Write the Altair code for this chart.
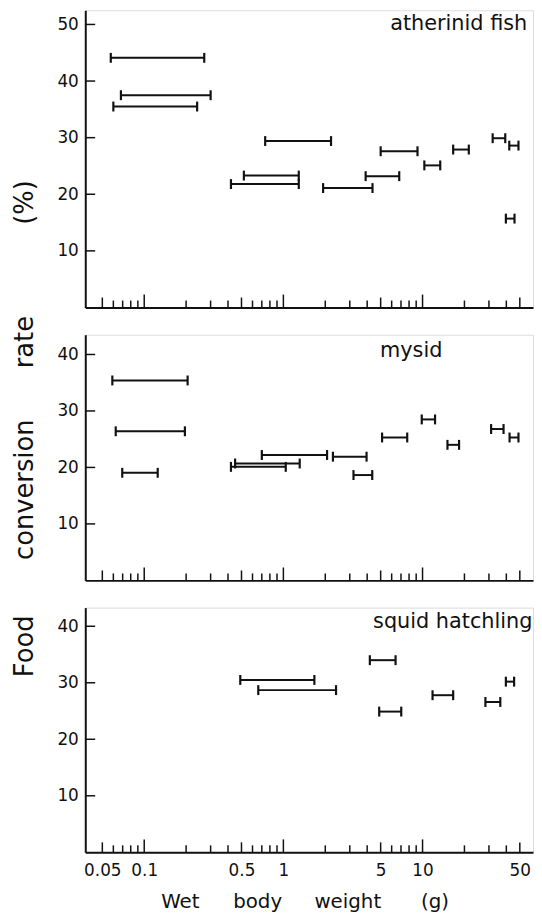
import altair as alt
import pandas as pd

# ---------------- data ----------------
# atherinid fish: body-weight range (g) and food conversion rate (%)
fish_lo = [0.0575, 0.068, 0.060, 0.74, 0.52, 0.42, 1.93, 3.9, 5.0, 10.3, 16.6, 31.9, 42.0, 39.7]
fish_hi = [0.27, 0.30, 0.24, 2.2, 1.29, 1.29, 4.37, 6.8, 9.2, 13.4, 21.5, 39.3, 48.9, 45.8]
fish_rate = [44.1, 37.5, 35.5, 29.4, 23.3, 21.8, 21.1, 23.2, 27.6, 25.1, 27.9, 29.9, 28.6, 15.7]

# mysid
mysid_lo = [0.059, 0.0624, 0.0695, 0.70, 0.45, 0.42, 2.27, 3.19, 5.12, 9.87, 15.1, 31.1, 42.2]
mysid_hi = [0.205, 0.196, 0.125, 2.06, 1.31, 1.04, 3.96, 4.35, 7.76, 12.3, 18.3, 38.2, 48.9]
mysid_rate = [35.4, 26.4, 19.05, 22.2, 20.7, 20.1, 21.9, 18.65, 25.3, 28.5, 24.0, 26.8, 25.3]

# squid hatchling
squid_lo = [0.49, 0.66, 4.18, 4.88, 11.8, 28.3, 39.7]
squid_hi = [1.67, 2.39, 6.4, 7.03, 16.6, 36.2, 45.5]
squid_rate = [30.5, 28.7, 34.0, 24.9, 27.8, 26.6, 30.2]

# axis ticks / labels
x_labels = [0.05, 0.1, 0.5, 1, 5, 10, 50]
x_major_ticks = [0.1, 1, 10]
x_mid_ticks = [0.05, 0.5, 5, 50]
x_minor_ticks = [0.06, 0.07, 0.08, 0.09, 0.2, 0.3, 0.4, 0.6, 0.7, 0.8, 0.9,
                 2, 3, 4, 6, 7, 8, 9, 20, 30, 40]
y_ticks_top = [10, 20, 30, 40, 50]
y_ticks_low = [10, 20, 30, 40]

panel_labels = ["atherinid fish", "mysid", "squid hatchling"]
y_title_words = ["(%)", "rate", "conversion", "Food"]
x_title_words = ["Wet", "body", "weight", "(g)"]

# ---------------- styling ----------------
INK = "#111111"
FONT = "DejaVu Sans"
W = 452
XMIN, XMAX = 0.0377, 62.2
CAP = "M0,-1L0,1"


def make_panel(lo, hi, rate, ymax, h, yvals, label, lx, ly, bottom):
    df = pd.DataFrame({"lo": lo, "hi": hi, "rate": rate})
    xs = alt.Scale(type="log", domain=[XMIN, XMAX], nice=False)
    ys = alt.Scale(domain=[0, ymax], nice=False, zero=False)
    if bottom:
        xaxis = alt.Axis(values=x_labels, format="~g", labelOverlap=False, ticks=False,
                         labelPadding=10, labelFontSize=17, labelColor=INK, labelFont=FONT,
                         labelFlush=False, domainWidth=2, domainColor=INK, grid=False, title=None)
    else:
        xaxis = alt.Axis(labels=False, ticks=False, domainWidth=2, domainColor=INK,
                         grid=False, title=None)
    yaxis = alt.Axis(values=yvals, ticks=False, labelPadding=7, labelFontSize=17,
                     labelColor=INK, labelFont=FONT, domainWidth=2, domainColor=INK,
                     grid=False, title=None)

    def X(f):
        return alt.X(f, type="quantitative", scale=xs, axis=xaxis)

    def Y(f):
        return alt.Y(f, type="quantitative", scale=ys, axis=yaxis)

    bars = alt.Chart(df).mark_rule(color=INK, strokeWidth=2).encode(
        x=X("lo"), x2="hi", y=Y("rate"))
    cap_lo = alt.Chart(df).mark_point(shape=CAP, size=100, filled=False, strokeWidth=2.2,
                                      color=INK, opacity=1).encode(x=X("lo"), y=Y("rate"))
    cap_hi = alt.Chart(df).mark_point(shape=CAP, size=100, filled=False, strokeWidth=2.2,
                                      color=INK, opacity=1).encode(x=X("hi"), y=Y("rate"))
    layers = [bars, cap_lo, cap_hi]
    for vals, ln in [(x_major_ticks, 13), (x_mid_ticks, 10), (x_minor_ticks, 7)]:
        layers.append(
            alt.Chart(pd.DataFrame({"v": vals})).mark_rule(color=INK, strokeWidth=1.5).encode(
                x=X("v"), y=alt.value(h), y2=alt.value(h - ln)))
    layers.append(
        alt.Chart(pd.DataFrame({"v": yvals})).mark_rule(color=INK, strokeWidth=1.5).encode(
            y=Y("v"), x=alt.value(0), x2=alt.value(10)))
    layers.append(
        alt.Chart(pd.DataFrame({"t": [label]})).mark_text(
            font=FONT, fontSize=21, align="center", baseline="middle", color=INK).encode(
            text="t:N", x=alt.value(lx), y=alt.value(ly)))
    return layers


H_TOP, H_MID, H_BOT = 300, 248, 247

top_layers = make_panel(fish_lo, fish_hi, fish_rate, 52.5, H_TOP, y_ticks_top,
                        panel_labels[0], 377, 14, False)
# shared y-axis title, word by word (rotated)
for word, yy in zip(y_title_words, [194, 335, 484, 642]):
    top_layers.append(
        alt.Chart(pd.DataFrame({"t": [word]})).mark_text(
            font=FONT, fontSize=26, angle=270, align="center", baseline="alphabetic",
            color=INK).encode(text="t:N", x=alt.value(-53), y=alt.value(yy)))
top = alt.layer(*top_layers).properties(width=W, height=H_TOP)

mid = alt.layer(*make_panel(mysid_lo, mysid_hi, mysid_rate, 43.5, H_MID, y_ticks_low,
                            panel_labels[1], 329, 16, False)).properties(width=W, height=H_MID)

bot_layers = make_panel(squid_lo, squid_hi, squid_rate, 43.3, H_BOT, y_ticks_low,
                        panel_labels[2], 371, 15, True)
for word, xx in zip(x_title_words, [96, 174, 265, 353]):
    bot_layers.append(
        alt.Chart(pd.DataFrame({"t": [word]})).mark_text(
            font=FONT, fontSize=20, align="center", baseline="alphabetic",
            color=INK).encode(text="t:N", x=alt.value(xx), y=alt.value(H_BOT + 56)))
bot = alt.layer(*bot_layers).properties(width=W, height=H_BOT)

chart = alt.vconcat(top, mid, bot, spacing=27.5, bounds="flush").properties(
    padding={"left": 3, "top": -3, "right": 0, "bottom": 0}
).configure_view(stroke=None).configure(background="white")

chart.save("out.html", embed_options={"renderer": "svg", "actions": False})
